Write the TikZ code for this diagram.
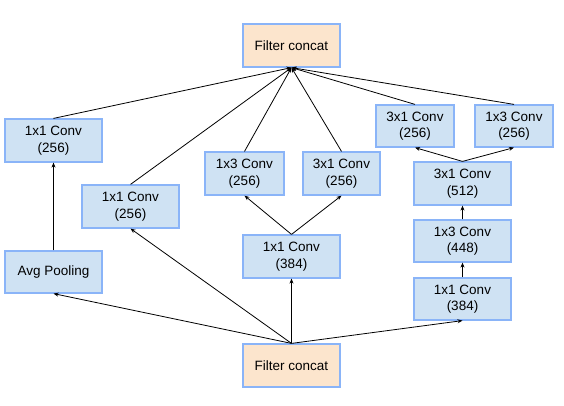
\documentclass[tikz,border=0pt]{standalone}
\usepackage{fontspec}
\setmainfont{Liberation Sans}
\usetikzlibrary{arrows.meta}
\definecolor{boxfill}{HTML}{CFE2F3}
\definecolor{boxline}{HTML}{8AB4F8}
\definecolor{catfill}{HTML}{FCE5CD}
\tikzset{
  box/.style={draw=boxline, line width=1.2pt, fill=boxfill, align=center, inner sep=0pt,
    font=\fontsize{13.5}{16.5}\selectfont, text=black},
  cat/.style={box, fill=catfill},
  conn/.style={draw=black, line width=0.8pt, -{Stealth[length=5pt,width=4pt]}},
}
\begin{document}
\begin{tikzpicture}[x=1pt,y=-1pt]
\useasboundingbox (0,0) rectangle (564,405);
\node[cat, minimum width=97pt, minimum height=43pt] (topC) at (291.5,45.5) {Filter concat};
\node[cat, minimum width=97pt, minimum height=43pt] (botC) at (291.5,365.5) {Filter concat};
\node[box, minimum width=97pt, minimum height=43pt] (A1) at (53.5,140.5) {1x1 Conv\\(256)};
\node[box, minimum width=97pt, minimum height=42pt] (A0) at (53.5,272) {Avg Pooling};
\node[box, minimum width=97pt, minimum height=43pt] (B1) at (130.5,206.5) {1x1 Conv\\(256)};
\node[box, minimum width=79pt, minimum height=43pt] (C2) at (244.5,173.5) {1x3 Conv\\(256)};
\node[box, minimum width=77pt, minimum height=43pt] (D2) at (341.5,173.5) {3x1 Conv\\(256)};
\node[box, minimum width=97pt, minimum height=43pt] (C1) at (291.5,256.5) {1x1 Conv\\(384)};
\node[box, minimum width=78pt, minimum height=42pt] (E4) at (415,126) {3x1 Conv\\(256)};
\node[box, minimum width=78pt, minimum height=42pt] (F4) at (514,126) {1x3 Conv\\(256)};
\node[box, minimum width=97pt, minimum height=43pt] (E3) at (462.5,183.5) {3x1 Conv\\(512)};
\node[box, minimum width=97pt, minimum height=42pt] (E2) at (462.5,241) {1x3 Conv\\(448)};
\node[box, minimum width=97pt, minimum height=42pt] (E1) at (462.5,299) {1x1 Conv\\(384)};
% to top concat
\foreach \n in {A1,B1,C2,D2,E4,F4} \draw[conn] (\n.north) -- (topC.south);
% from bottom concat
\foreach \n in {A0,B1,C1,E1} \draw[conn] (botC.north) -- (\n.south);
\draw[conn] (A0.north) -- (A1.south);
\draw[conn] (C1.north) -- (C2.south);
\draw[conn] (C1.north) -- (D2.south);
\draw[conn] (E1.north) -- (E2.south);
\draw[conn] (E2.north) -- (E3.south);
\draw[conn] (E3.north) -- (E4.south);
\draw[conn] (E3.north) -- (F4.south);
\end{tikzpicture}
\end{document}
